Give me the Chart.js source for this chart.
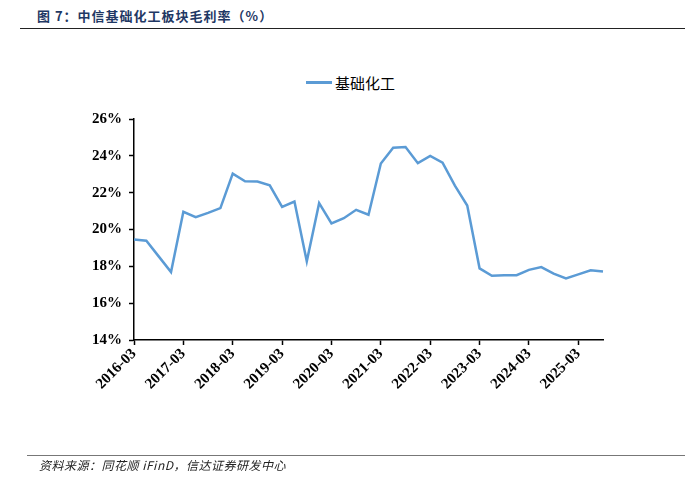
<!DOCTYPE html>
<html>
<head>
<meta charset="utf-8">
<script src="https://cdn.jsdelivr.net/npm/chart.js@4.4.1/dist/chart.umd.min.js"></script>
<style>
  body { margin: 0; background: #fff; width: 685px; height: 486px; overflow: hidden; position: relative; }
  #title { position: absolute; left: 37px; top: 6px; font: bold 13px "Noto Sans CJK SC", sans-serif; color: #1f3864; letter-spacing: 1px; }
  #titleLine { position: absolute; left: 20px; top: 28px; width: 665px; height: 0; border-top: 1.5px solid #222; }
  #legend { position: absolute; left: 306px; top: 72px; font: 15px "Noto Sans CJK SC", sans-serif; color: #000; display: flex; align-items: center; }
  #legend span.mark { display: inline-block; width: 26px; height: 3px; background: #5b9bd5; margin-right: 3px; }
  #footLine { position: absolute; left: 27px; top: 455px; width: 658px; height: 0; border-top: 1px solid #777; }
  #source { position: absolute; left: 39px; top: 456px; font: italic 12px "Noto Sans CJK SC", sans-serif; color: #222; letter-spacing: 0.5px; }
  canvas { position: absolute; left: 0; top: 0; }
</style>
</head>
<body>
<div id="title">图 7：中信基础化工板块毛利率（%）</div>
<div id="titleLine"></div>
<div id="legend"><span class="mark"></span>基础化工</div>
<canvas id="marginChart" width="685" height="486"></canvas>
<div id="footLine"></div>
<div id="source">资料来源：同花顺 iFinD，信达证券研发中心</div>
<script>
const quarters = [
  '2016-03', '2016-06', '2016-09', '2016-12',
  '2017-03', '2017-06', '2017-09', '2017-12',
  '2018-03', '2018-06', '2018-09', '2018-12',
  '2019-03', '2019-06', '2019-09', '2019-12',
  '2020-03', '2020-06', '2020-09', '2020-12',
  '2021-03', '2021-06', '2021-09', '2021-12',
  '2022-03', '2022-06', '2022-09', '2022-12',
  '2023-03', '2023-06', '2023-09', '2023-12',
  '2024-03', '2024-06', '2024-09', '2024-12',
  '2025-03', '2025-06', '2025-09'
]
const grossMargin = [
  19.46, 19.39, 18.54, 17.69,
  20.96, 20.67, 20.90, 21.16,
  23.03, 22.62, 22.60, 22.40,
  21.23, 21.52, 18.27, 21.43,
  20.33, 20.61, 21.07, 20.80,
  23.58, 24.44, 24.48, 23.60,
  23.99, 23.63, 22.38, 21.30,
  17.89, 17.49, 17.51, 17.52,
  17.81, 17.96, 17.60, 17.34,
  17.56, 17.79, 17.72
]
const yTicks = [14, 16, 18, 20, 22, 24, 26]

const tickFont = { family: '"Liberation Serif", "Times New Roman", serif', size: 15, weight: 'bold' }
const isYearTick = (i) => quarters[i] && quarters[i].endsWith('-03')

const ctx = document.getElementById('marginChart').getContext('2d')
new Chart(ctx, {
  type: 'line',
  data: {
    labels: quarters,
    datasets: [
      {
        label: '基础化工',
        data: grossMargin,
        borderColor: '#5b9bd5',
        borderWidth: 2.5,
        pointRadius: 0,
        tension: 0,
        fill: false
      }
    ]
  },
  options: {
    responsive: false,
    animation: false,
    layout: { padding: { top: 119, right: 82, left: 0, bottom: 0 } },
    plugins: {
      legend: { display: false },
      tooltip: { enabled: false }
    },
    scales: {
      x: {
        offset: false,
        grid: {
          drawOnChartArea: false,
          drawTicks: true,
          tickLength: 5,
          tickColor: (c) => (isYearTick(c.index) ? '#000' : 'rgba(0,0,0,0)'),
          tickWidth: 1.5
        },
        border: { color: '#000', width: 1.5 },
        ticks: {
          autoSkip: false,
          minRotation: 45,
          maxRotation: 45,
          padding: 0,
          color: '#000',
          font: tickFont,
          callback: function (value, index) {
            return isYearTick(index) ? quarters[index] : ''
          }
        },
        afterFit: (scale) => { scale.height = 486 - 340 }
      },
      y: {
        min: 14,
        max: 26,
        afterBuildTicks: (scale) => { scale.ticks = yTicks.map((v) => ({ value: v })) },
        grid: {
          drawOnChartArea: false,
          drawTicks: true,
          tickLength: 5,
          tickColor: '#000',
          tickWidth: 1.5
        },
        border: { color: '#000', width: 1.5 },
        ticks: {
          padding: 7,
          color: '#000',
          font: tickFont,
          callback: (v) => v + '%'
        },
        afterFit: (scale) => { scale.width = 134 }
      }
    }
  }
})
</script>
</body>
</html>
